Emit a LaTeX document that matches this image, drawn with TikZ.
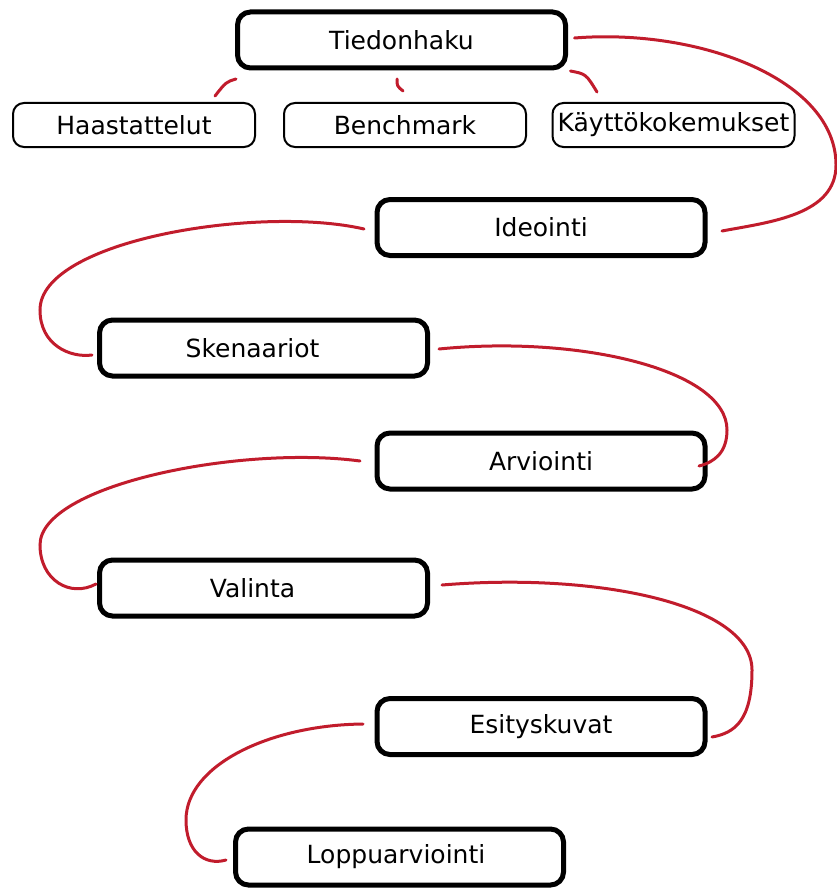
\documentclass[tikz,border=0pt]{standalone}
\usepackage{fontspec}
\setmainfont{DejaVu Sans}
\definecolor{brush}{RGB}{193,28,44}
\begin{document}
\begin{tikzpicture}[x=1pt,y=-1pt,
  bigbox/.style={draw=black, line width=5pt, rounded corners=13pt, minimum width=328pt, minimum height=56pt, inner sep=0pt, font=\fontsize{25}{30}\selectfont},
  smallbox/.style={draw=black, line width=2pt, rounded corners=11pt, minimum width=242pt, minimum height=44pt, inner sep=0pt, font=\fontsize{25}{30}\selectfont},
  link/.style={draw=brush, line width=3pt, line cap=round}]
\useasboundingbox (0,0) rectangle (837,888);

\node[bigbox] (tied) at (401.5,40) {Tiedonhaku};
\node[smallbox] (hast) at (134,125) {Haastattelut};
\node[smallbox] (bench) at (405,125) {Benchmark};
\node[smallbox] (kayt) at (673.5,125) {Käyttökokemukset};
\node[bigbox] (ideo) at (541,227.5) {Ideointi};
\node[bigbox] (sken) at (263.5,348) {Skenaariot\hspace*{22pt}};
\node[bigbox] (arvi) at (541,461) {Arviointi};
\node[bigbox] (vali) at (263.5,588) {Valinta\hspace*{22pt}};
\node[bigbox] (esit) at (541,726.5) {Esityskuvat};
\node[bigbox] (lopp) at (399.5,857) {Loppuarviointi\hspace*{7pt}};

% small connectors
\draw[link] ([shift={(1,8.5)}]tied.south west) .. controls (226,82) .. ([shift={(-41,-6)}]hast.north east);
\draw[link] ([shift={(-4.5,8.5)}]tied.south) .. controls (397,86) .. ([shift={(-2,-11)}]bench.north);
\draw[link] ([shift={(2.5,0.5)}]tied.south east) .. controls (586,74) .. ([shift={(45.5,-10)}]kayt.north west);

% main flow
\draw[link] ([shift={(6.5,-2)}]tied.east) .. controls (700,28) and (836,80) .. (836,165)
  .. controls (836,215) and (770,222) .. ([shift={(14.5,3.5)}]ideo.east);
\draw[link] ([shift={(-10.5,1.5)}]ideo.west) .. controls (260,205) and (40,240) .. (40,310)
  .. controls (40,345) and (70,358) .. ([shift={(-5,7)}]sken.west);
\draw[link] ([shift={(9,1)}]sken.east) .. controls (580,335) and (727,370) .. (727,430)
  .. controls (727,452) and (715,462) .. ([shift={(-8.5,5)}]arvi.east);
\draw[link] ([shift={(-14.5,0)}]arvi.west) .. controls (240,445) and (40,485) .. (40,545)
  .. controls (40,580) and (70,598) .. ([shift={(-1,-4)}]vali.west);
\draw[link] ([shift={(12,-3)}]vali.east) .. controls (600,572) and (752,605) .. (752,670)
  .. controls (752,720) and (735,733) .. ([shift={(4.5,10.5)}]esit.east);
\draw[link] ([shift={(-11.5,-2.5)}]esit.west) .. controls (270,725) and (186,765) .. (186,820)
  .. controls (186,852) and (205,866) .. ([shift={(-7,3)}]lopp.west);
\end{tikzpicture}
\end{document}
